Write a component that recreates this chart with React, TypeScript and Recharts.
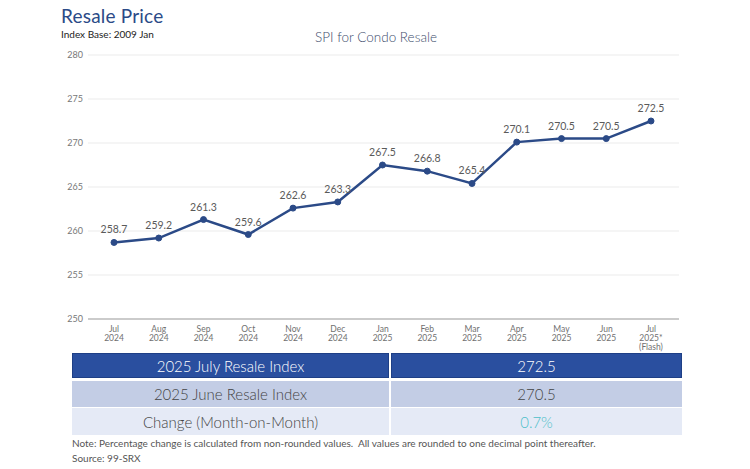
import React from "react";
import { LineChart, Line, XAxis, YAxis, CartesianGrid, LabelList } from "recharts";

// Monthly SPI readings for condo resale
const months = ["Jul", "Aug", "Sep", "Oct", "Nov", "Dec", "Jan", "Feb", "Mar", "Apr", "May", "Jun", "Jul"];
const years = ["2024", "2024", "2024", "2024", "2024", "2024", "2025", "2025", "2025", "2025", "2025", "2025", "2025*"];
const notes = ["", "", "", "", "", "", "", "", "", "", "", "", "(Flash)"];
const spiValues = [258.7, 259.2, 261.3, 259.6, 262.6, 263.3, 267.5, 266.8, 265.4, 270.1, 270.5, 270.5, 272.5];
const yTicks = [250, 255, 260, 265, 270, 275, 280];

// Summary table rows
const summaryLabels = ["2025 July Resale Index", "2025 June Resale Index", "Change (Month-on-Month)"];
const summaryValues = ["272.5", "270.5", "0.7%"];

const data = months.map((m, i) => ({
  key: `${m}-${i}`,
  month: m,
  year: years[i],
  note: notes[i],
  spi: spiValues[i],
}));

const FONT = "Lato, 'Open Sans', sans-serif";
const NAVY = "#2b4a87";

const MonthTick = (props: any) => {
  const { x, y, payload } = props;
  const d = data[payload.index];
  const lines = [d.month, d.year, d.note].filter((s) => s);
  return (
    <g transform={`translate(${x},${y})`}>
      {lines.map((t, i) => (
        <text
          key={i}
          x={0}
          y={5 + i * 9}
          textAnchor="middle"
          fontSize={8.5}
          fill="#707070"
          fontFamily={FONT}
        >
          {t}
        </text>
      ))}
    </g>
  );
};

const rowStyles = [
  { bg: "#2a4f9f", color: "#ffffff", valueColor: "#ffffff", border: "1px solid #1e3f86" },
  { bg: "#c3cde5", color: "#444444", valueColor: "#444444", border: "none" },
  { bg: "#e5eaf6", color: "#444444", valueColor: "#4dbfc9", border: "none" },
];
const rowTops = [353, 381, 408];
const rowHeights = [25, 26, 27];

export default function App() {
  return (
    <div
      style={{
        position: "absolute",
        left: 0,
        top: 0,
        width: 750,
        height: 469,
        background: "#ffffff",
        fontFamily: FONT,
        overflow: "hidden",
      }}
    >
      <div style={{ position: "absolute", left: 61, top: 4, fontSize: 19, color: NAVY, letterSpacing: 0.2 }}>
        Resale Price
      </div>
      <div style={{ position: "absolute", left: 61, top: 28, fontSize: 10, color: "#222" }}>
        Index Base: 2009 Jan
      </div>
      <div
        style={{
          position: "absolute",
          left: 0,
          width: 752,
          top: 29,
          textAlign: "center",
          fontSize: 13.5,
          color: "#3d4d6c",
          fontWeight: 300,
        }}
      >
        SPI for Condo Resale
      </div>

      <div style={{ position: "absolute", left: 0, top: 0 }}>
        <LineChart
          width={750}
          height={360}
          data={data}
          margin={{ top: 55, right: 71, bottom: 11, left: 0 }}
        >
          <CartesianGrid horizontal vertical={false} stroke="#ebebeb" strokeWidth={1} />
          <XAxis
            dataKey="key"
            height={30}
            interval={0}
            tickLine={false}
            axisLine={{ stroke: "#bdbdbd", strokeWidth: 1.5 }}
            padding={{ left: 26, right: 28 }}
            tick={<MonthTick />}
          />
          <YAxis
            width={88}
            domain={[250, 280]}
            ticks={yTicks}
            tickLine={false}
            axisLine={false}
            tickSize={0}
            tickMargin={5}
            tick={{ fontSize: 9, fill: "#777777", fontFamily: FONT }}
          />
          <Line
            type="linear"
            dataKey="spi"
            stroke={NAVY}
            strokeWidth={2.5}
            dot={{ r: 3, fill: NAVY, stroke: NAVY, strokeWidth: 1 }}
            isAnimationActive={false}
          >
            <LabelList
              dataKey="spi"
              position="top"
              offset={9}
              fontSize={10.5}
              fill="#5a5a5a"
              fontFamily={FONT}
              formatter={(v: any) => Number(v).toFixed(1)}
            />
          </Line>
        </LineChart>
      </div>

      {summaryLabels.map((label, i) => {
        const s = rowStyles[i];
        return (
          <div
            key={label}
            style={{
              position: "absolute",
              left: 72,
              top: rowTops[i],
              width: 610,
              height: rowHeights[i],
              display: "flex",
              fontSize: 15,
              fontWeight: 300,
            }}
          >
            <div
              style={{
                width: 317,
                background: s.bg,
                color: s.color,
                display: "flex",
                alignItems: "center",
                justifyContent: "center",
                boxSizing: "border-box",
                border: s.border,
              }}
            >
              {label}
            </div>
            <div style={{ width: 2, background: "#ffffff" }} />
            <div
              style={{
                flex: 1,
                background: s.bg,
                color: s.valueColor,
                display: "flex",
                alignItems: "center",
                justifyContent: "center",
                boxSizing: "border-box",
                border: s.border,
              }}
            >
              {summaryValues[i]}
            </div>
          </div>
        );
      })}

      <div
        style={{
          position: "absolute",
          left: 72,
          top: 437,
          fontSize: 10,
          letterSpacing: 0,
          color: "#555",
          whiteSpace: "nowrap",
        }}
      >
        Note: Percentage change is calculated from non-rounded values.&nbsp; All values are rounded to one decimal point thereafter.
      </div>
      <div style={{ position: "absolute", left: 72, top: 452, fontSize: 10, color: "#555" }}>
        Source: 99-SRX
      </div>
    </div>
  );
}
